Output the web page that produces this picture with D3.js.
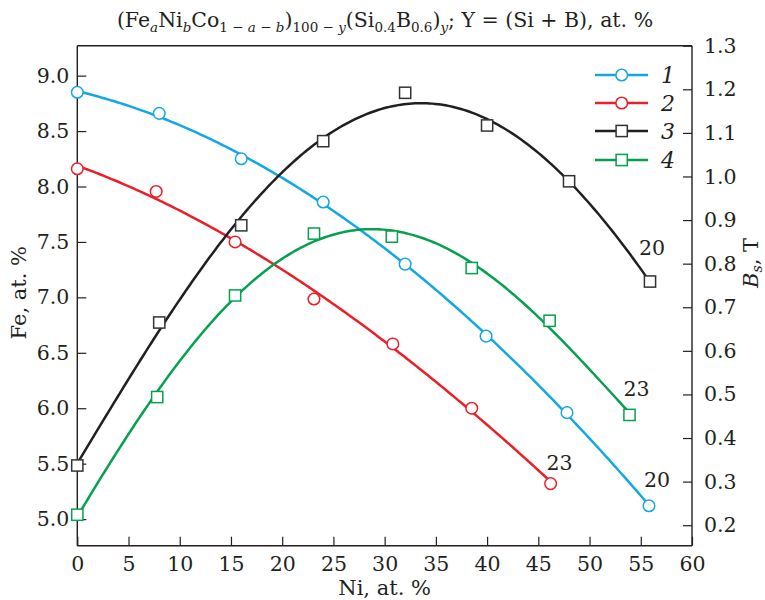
<!DOCTYPE html>
<html>
<head>
<meta charset="utf-8">
<script src="https://cdn.jsdelivr.net/npm/d3@7"></script>
<style>
  html, body { margin: 0; padding: 0; background: #fff; }
  svg { display: block; }
  text { font-family: "DejaVu Serif", serif; fill: #231f20; }
</style>
</head>
<body>
<svg id="chart" width="765" height="600"></svg>
<script>
// ---------------- data ----------------
const niSeries1 = [0, 8, 16, 24, 32, 39.9, 47.8, 55.8];
const feSeries1 = [8.85, 8.66, 8.25, 7.86, 7.30, 6.65, 5.96, 5.12];

const niSeries2 = [0, 7.7, 15.4, 23.1, 30.8, 38.5, 46.2];
const feSeries2 = [8.16, 7.955, 7.50, 6.985, 6.58, 6.0, 5.32];

const niSeries3 = [0, 8, 16, 24, 32, 40, 48, 55.9];
const bsSeries3 = [0.337, 0.665, 0.888, 1.081, 1.192, 1.117, 0.989, 0.759];

const niSeries4 = [0, 7.8, 15.4, 23.1, 30.7, 38.5, 46.1, 53.9];
const bsSeries4 = [0.224, 0.494, 0.727, 0.869, 0.862, 0.79, 0.669, 0.453];

const seriesNames = ["1", "2", "3", "4"];
const endLabels = ["20", "23", "20", "23"];

const xTicks = [0, 5, 10, 15, 20, 25, 30, 35, 40, 45, 50, 55, 60];
const yLeftTicks = [5.0, 5.5, 6.0, 6.5, 7.0, 7.5, 8.0, 8.5, 9.0];
const yRightTicks = [0.2, 0.3, 0.4, 0.5, 0.6, 0.7, 0.8, 0.9, 1.0, 1.1, 1.2, 1.3];

// ---------------- layout ----------------
const L = 77.3, R = 692, T = 45.7, B = 545.7;
const svg = d3.select("#chart");

const x = d3.scaleLinear().domain([0, 60]).range([L, R]);
const yL = d3.scaleLinear().domain([4.76, 9.27]).range([B, T]);
const yR = d3.scaleLinear().domain([0.153, 1.3]).range([B, T]);

const colors = ["#13a8e4", "#ea1f27", "#231f20", "#06a14e"];
const markerStroke = ["#13a8e4", "#ea1f27", "#333333", "#06a14e"];
const shapes = ["circle", "circle", "square", "square"];

// least-squares polynomial fit
function polyfit(xs, ys, deg) {
  const n = deg + 1, s = 60;
  const A = Array.from({length: n}, () => new Array(n).fill(0));
  const b = new Array(n).fill(0);
  xs.forEach((xv, k) => {
    const u = xv / s;
    for (let i = 0; i < n; i++) {
      b[i] += ys[k] * Math.pow(u, i);
      for (let j = 0; j < n; j++) A[i][j] += Math.pow(u, i + j);
    }
  });
  for (let c = 0; c < n; c++) {
    let p = c;
    for (let r = c + 1; r < n; r++) if (Math.abs(A[r][c]) > Math.abs(A[p][c])) p = r;
    [A[c], A[p]] = [A[p], A[c]]; [b[c], b[p]] = [b[p], b[c]];
    for (let r = c + 1; r < n; r++) {
      const f = A[r][c] / A[c][c];
      for (let j = c; j < n; j++) A[r][j] -= f * A[c][j];
      b[r] -= f * b[c];
    }
  }
  const coef = new Array(n).fill(0);
  for (let i = n - 1; i >= 0; i--) {
    let v = b[i];
    for (let j = i + 1; j < n; j++) v -= A[i][j] * coef[j];
    coef[i] = v / A[i][i];
  }
  return xv => coef.reduce((acc, c, i) => acc + c * Math.pow(xv / s, i), 0);
}

const series = [
  {xs: niSeries1, ys: feSeries1, y: yL, deg: 3},
  {xs: niSeries2, ys: feSeries2, y: yL, deg: 3},
  {xs: niSeries3, ys: bsSeries3, y: yR, deg: 4},
  {xs: niSeries4, ys: bsSeries4, y: yR, deg: 4}
];

// ---------------- axes ----------------
const fmt = d3.format(".1f");
const axisFont = 20.5;

const gx = svg.append("g").attr("transform", `translate(0,${B})`)
  .call(d3.axisBottom(x).tickValues(xTicks).tickSize(-9).tickSizeOuter(0).tickPadding(11).tickFormat(d3.format("d")));
const gl = svg.append("g").attr("transform", `translate(${L},0)`)
  .call(d3.axisLeft(yL).tickValues(yLeftTicks).tickSize(-9).tickSizeOuter(0).tickPadding(8).tickFormat(fmt));
const gr = svg.append("g").attr("transform", `translate(${R},0)`)
  .call(d3.axisRight(yR).tickValues(yRightTicks).tickSize(-9).tickSizeOuter(0).tickPadding(12).tickFormat(fmt));

[gx, gl, gr].forEach(g => {
  g.selectAll("path.domain").attr("stroke", "#231f20").attr("stroke-width", 1.4);
  g.selectAll(".tick line").attr("stroke", "#231f20").attr("stroke-width", 1.2);
  g.selectAll("text").attr("font-size", axisFont).attr("font-family", "DejaVu Serif").attr("fill", "#231f20");
});
gl.select("path.domain").attr("d", `M0,${B}V${T}`);
gr.select("path.domain").attr("d", `M0,${B}V${T}`);
gx.select("path.domain").attr("d", `M${L},0H${R}`);
svg.append("line").attr("x1", x(0)).attr("x2", x(60)).attr("y1", yR(1.3)).attr("y2", yR(1.3))
  .attr("stroke", "#231f20").attr("stroke-width", 1.4);

// axis titles
svg.append("text").attr("x", (L + R) / 2).attr("y", 595).attr("text-anchor", "middle")
  .attr("font-size", 21).text("Ni, at. %");
svg.append("text").attr("transform", `translate(26,${(T + B) / 2 - 3}) rotate(-90)`)
  .attr("text-anchor", "middle").attr("font-size", 21).text("Fe, at. %");
const rl = svg.append("text").attr("transform", `translate(758,263) rotate(-90)`)
  .attr("text-anchor", "middle").attr("font-size", 21);
rl.append("tspan").attr("font-style", "italic").text("B");
rl.append("tspan").attr("font-style", "italic").attr("font-size", 14).attr("dy", 4).text("s");
rl.append("tspan").attr("dy", -4).text(", T");

// title
const tt = svg.append("text").attr("x", 385).attr("y", 27).attr("text-anchor", "middle").attr("font-size", 20.5);
const parts = [
  ["(Fe", 0, false], ["a", 1, true], ["Ni", 0, false], ["b", 1, true], ["Co", 0, false],
  ["1 − ", 1, false], ["a", 1, true], [" − ", 1, false], ["b", 1, true], [")", 0, false],
  ["100 − ", 1, false], ["y", 1, true], ["(Si", 0, false], ["0.4", 1, false], ["B", 0, false],
  ["0.6", 1, false], [")", 0, false], ["y", 1, true], ["; Y = (Si + B), at. %", 0, false]
];
let cur = 0;
parts.forEach(([t, sub, it]) => {
  const target = sub ? 5 : 0;
  const ts = tt.append("tspan").text(t).attr("dy", target - cur);
  cur = target;
  if (sub) ts.attr("font-size", 13.5);
  if (it) ts.attr("font-style", "italic");
});

// ---------------- curves and markers ----------------
const plot = svg.append("g");
series.forEach((s, i) => {
  const f = polyfit(s.xs, s.ys, s.deg);
  const x0 = d3.min(s.xs), x1 = d3.max(s.xs);
  const pts = d3.range(0, 201).map(k => x0 + (x1 - x0) * k / 200);
  plot.append("path")
    .attr("d", d3.line().x(d => x(d)).y(d => s.y(f(d))).curve(d3.curveLinear)(pts))
    .attr("fill", "none").attr("stroke", colors[i]).attr("stroke-width", 2.5);
});
series.forEach((s, i) => {
  const g = plot.append("g");
  s.xs.forEach((xv, k) => {
    const cx = x(xv), cy = s.y(s.ys[k]);
    if (shapes[i] === "circle") {
      g.append("circle").attr("cx", cx).attr("cy", cy).attr("r", 5.8)
        .attr("fill", "#fff").attr("stroke", markerStroke[i]).attr("stroke-width", 1.5);
    } else {
      g.append("rect").attr("x", cx - 5.6).attr("y", cy - 5.6).attr("width", 11.2).attr("height", 11.2)
        .attr("fill", "#fff").attr("stroke", markerStroke[i]).attr("stroke-width", 1.5);
    }
  });
});

// end labels
const labelOffsets = [[8, -19], [9, -14], [2, -27], [7, -19]];
series.forEach((s, i) => {
  const n = s.xs.length - 1;
  svg.append("text").attr("x", x(s.xs[n]) + labelOffsets[i][0]).attr("y", s.y(s.ys[n]) + labelOffsets[i][1])
    .attr("text-anchor", "middle").attr("font-size", 20.5).text(endLabels[i]);
});

// ---------------- legend ----------------
const legRows = [75, 103, 131, 160];
const leg = svg.append("g");
seriesNames.forEach((name, i) => {
  const yy = legRows[i];
  leg.append("line").attr("x1", 595).attr("x2", 648).attr("y1", yy).attr("y2", yy)
    .attr("stroke", colors[i]).attr("stroke-width", 2.5);
  if (shapes[i] === "circle") {
    leg.append("circle").attr("cx", 621.7).attr("cy", yy).attr("r", 5.8)
      .attr("fill", "#fff").attr("stroke", markerStroke[i]).attr("stroke-width", 1.5);
  } else {
    leg.append("rect").attr("x", 621.7 - 5.6).attr("y", yy - 5.6).attr("width", 11.2).attr("height", 11.2)
      .attr("fill", "#fff").attr("stroke", markerStroke[i]).attr("stroke-width", 1.5);
  }
  leg.append("text").attr("x", 661).attr("y", yy + 7.5).attr("font-size", 22)
    .attr("font-style", "italic").text(name);
});
</script>
</body>
</html>
